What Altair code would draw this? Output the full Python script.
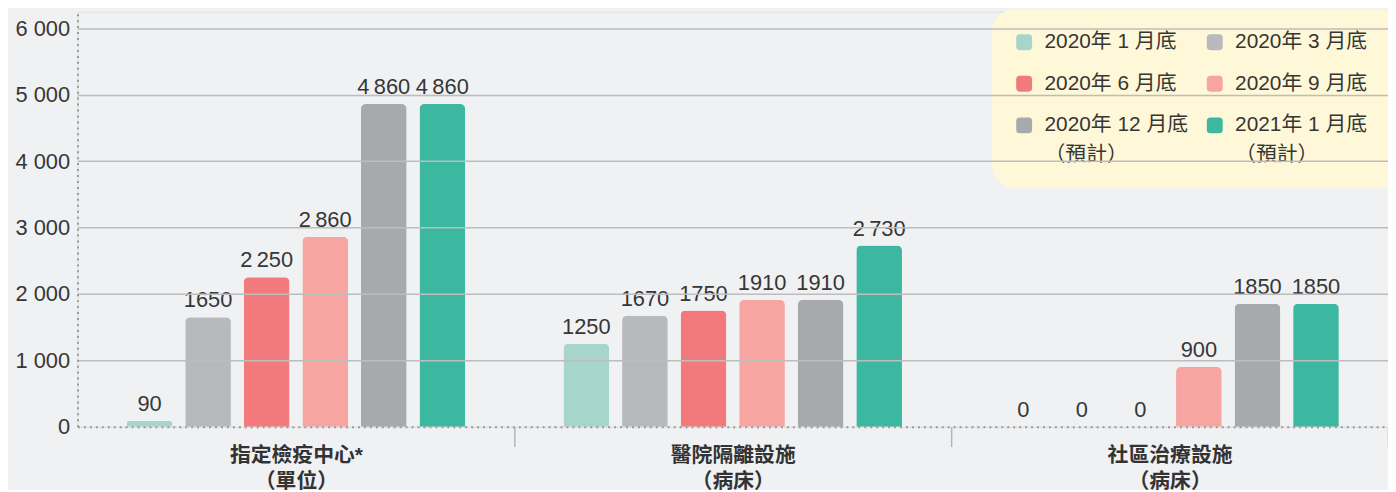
import altair as alt
import pandas as pd

categories = ["指定檢疫中心*\n（單位）", "醫院隔離設施\n（病床）", "社區治療設施\n（病床）"]
series = ["2020年 1 月底", "2020年 3 月底", "2020年 6 月底", "2020年 9 月底",
          "2020年 12 月底\n（預計）", "2021年 1 月底\n（預計）"]
colors = ["#a6d5cb", "#b8b9bc", "#f2797c", "#f6a5a1", "#a8a9ac", "#3cb7a0"]

values_quarantine = [90, 1650, 2250, 2860, 4860, 4860]
values_hospital = [1250, 1670, 1750, 1910, 1910, 2730]
values_community = [0, 0, 0, 900, 1850, 1850]
y_ticks = [0, 1000, 2000, 3000, 4000, 5000, 6000]

rows = []
for cat, vals in zip(categories, [values_quarantine, values_hospital, values_community]):
    for s, v in zip(series, vals):
        lab = f"{v // 1000}\u2009{v % 1000:03d}" if v >= 2000 else str(v)
        rows.append({"cat": cat, "series": s, "value": v, "label": lab})
df = pd.DataFrame(rows)

FONT = "'Liberation Sans', 'Noto Sans CJK TC', sans-serif"
TXT = "#363636"
rounded = "M-1,-0.55 Q-1,-1 -0.55,-1 L0.55,-1 Q1,-1 1,-0.55 L1,0.55 Q1,1 0.55,1 L-0.55,1 Q-1,1 -1,0.55 Z"
# invisible trailing room so the legend box runs off the right edge, as in the original
pad_right = "\u00a0" * 7 + "\u200d"
legend_expr = (
    f"datum.label == '{series[1]}' ? datum.label + '{pad_right}' : split(datum.label, '\\n')"
)

x_enc = alt.X("cat:N", sort=categories, title=None,
              scale=alt.Scale(paddingInner=0, paddingOuter=0),
              axis=alt.Axis(tickBand="extent", tickSize=20, tickColor="#b5b5b5", tickWidth=1.5,
                            tickOpacity={"condition": {"test": "datum.extra", "value": 0}, "value": 1},
                            domainDash=[2, 4], domainColor="#999999", domainWidth=2,
                            labelExpr="split(datum.label, '\\n')", labelFontWeight="bold",
                            labelFontSize=21, labelLineHeight=26, labelPadding=-2,
                            labelColor="#333333", labelAngle=0, zindex=1))
xo_enc = alt.XOffset("series:N", sort=series,
                     scale=alt.Scale(paddingInner=0.22, paddingOuter=0.84))
y_enc = alt.Y("value:Q", title=None,
              scale=alt.Scale(domain=[0, 6250], nice=False),
              axis=alt.Axis(values=y_ticks, tickSize=0, labelPadding=8, labelFontSize=22,
                            labelColor=TXT,
                            labelExpr="replace(format(datum.value, ','), ',', ' ')",
                            domainDash=[2, 4], domainColor="#999999", domainWidth=2,
                            gridColor="#bdbdbd", gridWidth=1.5,
                            gridOpacity={"condition": {"test": "datum.value === 0", "value": 0}, "value": 1},
                            zindex=1))

bars = alt.Chart(df).mark_bar(cornerRadiusTopLeft=5, cornerRadiusTopRight=5).encode(
    x=x_enc, xOffset=xo_enc, y=y_enc,
    color=alt.Color("series:N", sort=series,
                    scale=alt.Scale(domain=series, range=colors),
                    legend=alt.Legend(title=None, orient="none", legendX=921, legendY=-2,
                                      direction="horizontal",
                                      columns=2, fillColor="#fef8d8", cornerRadius=22,
                                      padding=22, symbolType=rounded, symbolSize=256,
                                      symbolStrokeWidth=0, symbolOpacity=1,
                                      labelFontSize=21, labelColor=TXT, labelLimit=0,
                                      labelOffset=10, columnPadding=16, rowPadding=20,
                                      labelExpr=legend_expr))
)

text = alt.Chart(df).mark_text(baseline="bottom", dy=-5, fontSize=22, color=TXT, font=FONT).encode(
    x=alt.X("cat:N", sort=categories), xOffset=alt.XOffset("series:N", sort=series),
    y=alt.Y("value:Q"), text="label:N")

chart = alt.layer(bars, text).properties(
    width=1320, height=418, background="#f0f1f3",
    padding={"left": 70, "top": 2, "right": 0, "bottom": 62},
    autosize=alt.AutoSizeParams(type="none"),
).configure_view(stroke=None).configure(font=FONT, style={"guide-label": {"lineHeight": 30}})

chart.save("out.html", embed_options={"renderer": "svg", "actions": False})
